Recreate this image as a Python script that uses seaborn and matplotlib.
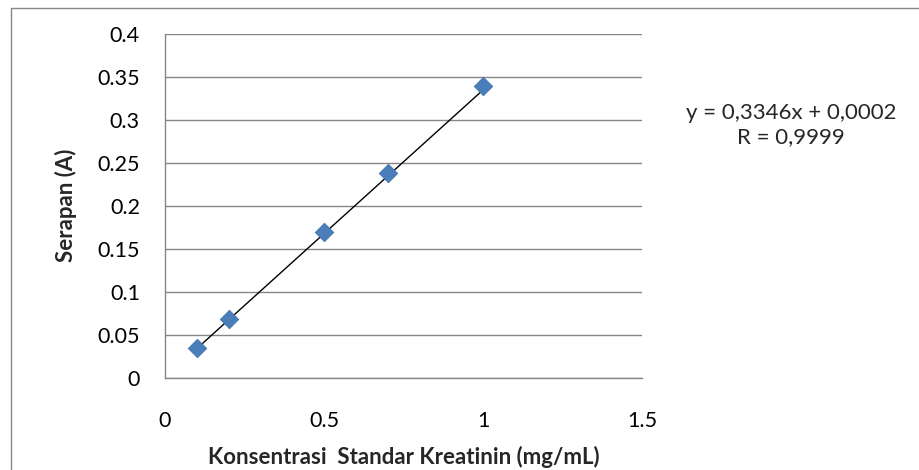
import numpy as np
import pandas as pd
import matplotlib
matplotlib.use("Agg")
import matplotlib.pyplot as plt
import seaborn as sns
from matplotlib.lines import Line2D

# Data
konsentrasi = [0.1, 0.2, 0.5, 0.7, 1.0]
serapan = [0.034, 0.068, 0.170, 0.238, 0.340]
slope = 0.3346
intercept = 0.0002
x_ticks = [0, 0.5, 1, 1.5]
x_tick_labels = ["0", "0.5", "1", "1.5"]
y_ticks = [0, 0.05, 0.1, 0.15, 0.2, 0.25, 0.3, 0.35, 0.4]
y_tick_labels = ["0", "0.05", "0.1", "0.15", "0.2", "0.25", "0.3", "0.35", "0.4"]
equation_text = "y = 0,3346x + 0,0002\nR = 0,9999"

df = pd.DataFrame({"x": konsentrasi, "y": serapan})

sns.set_theme(style="white")
plt.rcParams["font.family"] = ["Lato", "DejaVu Sans"]

fig = plt.figure(figsize=(9.19, 4.70), dpi=100)
W, H = 919, 470
ax = fig.add_axes([165 / W, 1 - 377.5 / H, (642 - 165) / W, (377.5 - 34) / H])

# trendline
xl = np.array([min(konsentrasi), max(konsentrasi)])
ax.plot(xl, slope * xl + intercept, color="black", lw=1.0, zorder=3)
sns.scatterplot(data=df, x="x", y="y", marker="D", s=90, color="#4A7EBB",
                edgecolor="#3F6FA8", linewidth=0.5, ax=ax, zorder=4)

ax.set_xlim(0, 1.5)
ax.set_ylim(0, 0.4)
ax.set_xticks(x_ticks)
ax.set_xticklabels(x_tick_labels)
ax.set_yticks(y_ticks)
ax.set_yticklabels(y_tick_labels)
ax.tick_params(axis="both", length=0, labelsize=15.5, colors="black")
ax.tick_params(axis="x", pad=24)
ax.tick_params(axis="y", pad=18)
ax.yaxis.grid(True, color="#868686", lw=1.0)
ax.xaxis.grid(False)
for s in ["top", "right"]:
    ax.spines[s].set_visible(False)
for s in ["left", "bottom"]:
    ax.spines[s].set_color("#868686")
    ax.spines[s].set_linewidth(1.0)

ax.set_xlabel("Konsentrasi  Standar Kreatinin (mg/mL)", fontsize=16, fontweight="bold", labelpad=11)
ax.set_ylabel("Serapan (A)", fontsize=16, fontweight="bold", labelpad=15)

fig.text(791 / W, 1 - 125 / H, equation_text, ha="center", va="center",
         fontsize=16, linespacing=1.3)

# chart-area border (left and top visible)
fig.add_artist(Line2D([11 / W, 11 / W], [0, 1 - 8 / H], transform=fig.transFigure,
                      color="#868686", lw=1.0))
fig.add_artist(Line2D([11 / W, 1], [1 - 8 / H, 1 - 8 / H], transform=fig.transFigure,
                      color="#868686", lw=1.0))

fig.savefig("out.png", dpi=100)
